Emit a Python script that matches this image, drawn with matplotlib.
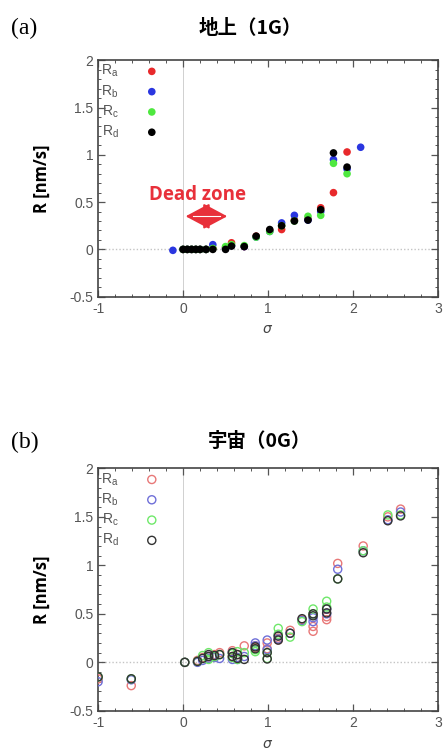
import numpy as np
import matplotlib.pyplot as plt
from matplotlib.ticker import MultipleLocator

plt.rcParams['axes.unicode_minus'] = False

# ---------------------------------------------- data --------------------------------------------
# (a) ground (1G), filled dots
sig_g = [-0.12, 0.0, 0.05, 0.1, 0.15, 0.2, 0.27, 0.35, 0.5, 0.57, 0.72, 0.86, 1.02, 1.16, 1.31, 1.47, 1.62, 1.77, 1.93, 2.09]
Ra_g = [np.nan, 0.0, 0.0, 0.0, 0.0, 0.0, 0.0, 0.01, 0.02, 0.07, 0.03, 0.14, 0.20, 0.21, 0.31, 0.32, 0.44, 0.60, 1.03, np.nan]
Rb_g = [-0.01, 0.0, 0.0, 0.0, 0.0, 0.0, 0.0, 0.05, 0.01, 0.04, 0.03, 0.13, 0.19, 0.28, 0.36, 0.31, 0.40, 0.95, 0.85, 1.08]
Rc_g = [np.nan, 0.0, 0.0, 0.0, 0.0, 0.0, 0.0, 0.01, 0.03, 0.05, 0.04, 0.13, 0.19, 0.25, 0.30, 0.35, 0.36, 0.91, 0.80, np.nan]
Rd_g = [np.nan, 0.0, 0.0, 0.0, 0.0, 0.0, 0.0, 0.0, 0.0, 0.035, 0.03, 0.14, 0.21, 0.25, 0.30, 0.31, 0.42, 1.02, 0.87, np.nan]

# (b) space (0G), open circles
sig_s = [-1.0, -0.61, 0.02, 0.17, 0.23, 0.3, 0.37, 0.43, 0.58, 0.64, 0.72, 0.85, 0.99, 1.12, 1.26, 1.40, 1.53, 1.69, 1.82, 2.12, 2.41, 2.56]
Ra_s = [-0.17, -0.24, 0.0, 0.02, 0.05, 0.06, 0.08, 0.10, 0.12, 0.08, 0.17, 0.17, 0.20, 0.25, 0.33, 0.44, 0.32, 0.44, 1.02, 1.20, 1.50, 1.58]
Rb_s = [-0.20, -0.18, 0.0, 0.0, 0.02, 0.04, 0.05, 0.04, 0.03, 0.03, 0.06, 0.20, 0.23, 0.28, 0.30, 0.43, 0.42, 0.50, 0.96, 1.15, 1.47, 1.55]
Rc_s = [-0.15, -0.17, 0.0, 0.01, 0.07, 0.10, 0.06, 0.08, 0.09, 0.11, 0.10, 0.11, 0.10, 0.35, 0.26, 0.42, 0.55, 0.63, 0.86, 1.15, 1.52, 1.52]
Rd_s = [-0.15, -0.17, 0.0, 0.01, 0.04, 0.06, 0.07, 0.08, 0.10, 0.04, 0.03, 0.14, 0.035, 0.27, 0.30, 0.45, 0.50, 0.55, 0.86, 1.13, 1.46, 1.51]
# repeated measurements in space
sig_s2 = [0.3, 0.58, 0.64, 0.85, 0.99, 1.12, 1.53, 1.69]
Ra_s2 = [0.04, 0.06, 0.05, 0.15, 0.14, 0.23, 0.37, 0.47]
Rb_s2 = [0.06, 0.10, 0.05, 0.17, 0.13, 0.24, 0.46, 0.55]
Rc_s2 = [0.03, 0.05, 0.03, 0.13, 0.04, 0.29, 0.50, 0.57]
Rd_s2 = [0.08, 0.06, 0.08, 0.16, 0.10, 0.23, 0.48, 0.51]

labels = ["R$_\\mathregular{a}$", "R$_\\mathregular{b}$", "R$_\\mathregular{c}$", "R$_\\mathregular{d}$"]
cols_g = ["#e8292b", "#2a36e0", "#4ee83f", "#000000"]
cols_s = ["#e87878", "#6f6fd8", "#6fe86a", "#333333"]

cjk = ['Noto Sans CJK JP', 'DejaVu Sans']
fig = plt.figure(figsize=(4.46, 7.53), dpi=100)
ax1 = fig.add_axes([0.22, 0.606, 0.762, 0.314])
ax2 = fig.add_axes([0.22, 0.056, 0.762, 0.322])


def style(ax):
    ax.set_xlim(-1, 3)
    ax.set_ylim(-0.5, 2)
    ax.xaxis.set_major_locator(MultipleLocator(1))
    ax.xaxis.set_minor_locator(MultipleLocator(0.2))
    ax.yaxis.set_minor_locator(MultipleLocator(0.1))
    ax.set_yticks([-0.5, 0, 0.5, 1, 1.5, 2])
    ax.set_yticklabels(["-0.5", "0", "0.5", "1", "1.5", "2"])
    ax.tick_params(which='both', direction='in', top=True, right=True, colors='#555555',
                   labelsize=10, labelcolor='#555555')
    ax.tick_params(which='major', length=5, width=0.9)
    ax.tick_params(which='minor', length=2.5, width=0.7)
    for sp in ax.spines.values():
        sp.set_color('#444444')
        sp.set_linewidth(1.2)
    for lab in ax.get_xticklabels() + ax.get_yticklabels():
        lab.set_family('Liberation Sans')
    ax.axhline(0, color='#c4c4c4', lw=1, ls=(0, (1, 1.5)), zorder=0)
    ax.axvline(0, color='#d0d0d0', lw=0.7, zorder=0)
    ax.set_xlabel("$\\sigma$", fontsize=10, color='#444444', labelpad=5)
    ax.set_ylabel("R [nm/s]", fontsize=12, fontweight='bold', family='Open Sans', labelpad=13)


style(ax1)
style(ax2)

# (a) filled
for R, c, lab in zip([Ra_g, Rb_g, Rc_g, Rd_g], cols_g, labels):
    ax1.scatter(sig_g, R, s=30, color=c, edgecolors='none', label=lab, zorder=3)

# (b) open
for R, R2, c, lab in zip([Ra_s, Rb_s, Rc_s, Rd_s], [Ra_s2, Rb_s2, Rc_s2, Rd_s2], cols_s, labels):
    ax2.scatter(sig_s, R, s=34, facecolors='none', edgecolors=c, linewidths=1.0, label=lab, zorder=3)
    ax2.scatter(sig_s2, R2, s=34, facecolors='none', edgecolors=c, linewidths=1.0, zorder=3)

for ax in (ax1, ax2):
    leg = ax.legend(loc='upper left', frameon=False, markerfirst=False, fontsize=10,
                    handletextpad=1.2, handlelength=2.4, labelspacing=0.28,
                    borderaxespad=0.0, borderpad=0.2, scatterpoints=1)
    for t in leg.get_texts():
        t.set_color('#555555')
        t.set_family('Liberation Sans')

# dead zone marker
ax1.text(0.17, 0.58, "Dead zone", color='#e8303a', fontsize=13.5, fontweight='bold',
         family='Open Sans', ha='center', va='center')
ax1.annotate("", xy=(0.03, 0.35), xytext=(0.52, 0.35),
             arrowprops=dict(arrowstyle='<|-|>,head_length=1.5,head_width=0.8', color='#e8303a',
                             lw=1.5, shrinkA=0, shrinkB=0, mutation_scale=10))
ax1.plot([0.12, 0.43], [0.35, 0.35], color='white', lw=0.8, zorder=5)

# titles and panel letters
fig.text(0.56, 0.962, "地上（1G）", family=cjk, fontweight='bold', fontsize=14, ha='center', va='center')
fig.text(0.582, 0.414, "宇宙（0G）", family=cjk, fontweight='bold', fontsize=14, ha='center', va='center')
fig.text(0.025, 0.962, "(a)", family='Liberation Serif', fontsize=17, ha='left', va='center')
fig.text(0.025, 0.413, "(b)", family='Liberation Serif', fontsize=17, ha='left', va='center')

fig.savefig("out.png", dpi=100)
